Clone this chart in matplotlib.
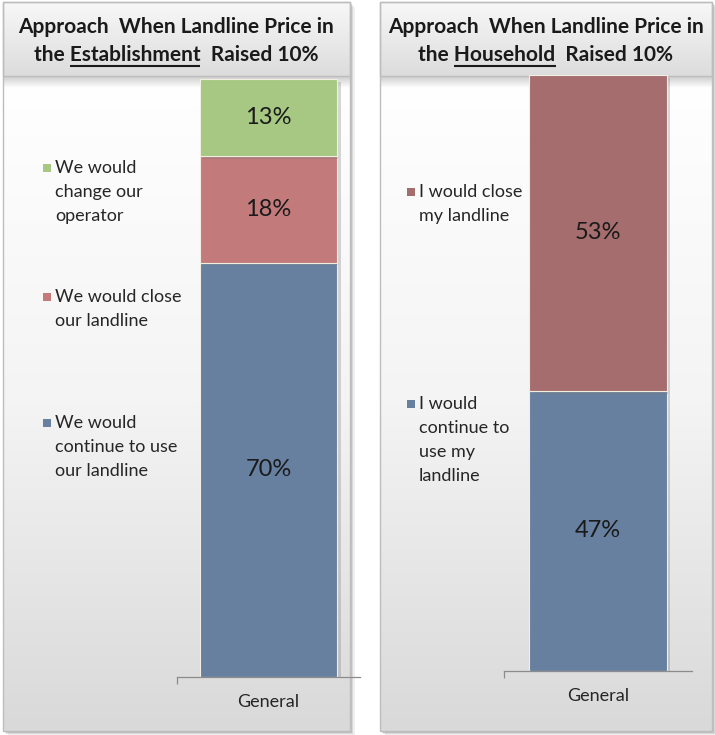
import numpy as np
import matplotlib
matplotlib.use('Agg')
import matplotlib.pyplot as plt
from matplotlib.patches import Rectangle
from matplotlib.colors import LinearSegmentedColormap
import matplotlib.patheffects as pe

plt.rcParams['font.family'] = ['Lato', 'DejaVu Sans']

# data
categories = ['General']

est_labels = ['We would\ncontinue to use\nour landline', 'We would close\nour landline', 'We would\nchange our\noperator']
est_values = [70, 18, 13]
est_colors = ['#6780a0', '#c27b7a', '#a6c882']

hh_labels = ['I would\ncontinue to\nuse my\nlandline', 'I would close\nmy landline']
hh_values = [47, 53]
hh_colors = ['#6780a0', '#a56d6d']

W, H = 715, 735
fig = plt.figure(figsize=(W / 100, H / 100), dpi=100)
bg = fig.add_axes([0, 0, 1, 1])
bg.set_xlim(0, W)
bg.set_ylim(H, 0)
bg.axis('off')

panel_cmap = LinearSegmentedColormap.from_list('p', ['#ffffff', '#f4f4f4', '#d9d9d9'])
title_cmap = LinearSegmentedColormap.from_list('t', ['#f8f8f8', '#dcdcdc'])
grad = np.linspace(0, 1, 256).reshape(-1, 1)


def panel(x0, x1):
    y0, y1, ty = 2, 731, 76
    # outer shadow
    for d, a in [(5, 0.12), (3, 0.2), (1.5, 0.25)]:
        bg.add_patch(Rectangle((x0 + d, y0 + d), x1 - x0, y1 - y0, fc='#808080', ec='none', alpha=a, zorder=0))
    bg.imshow(grad, cmap=panel_cmap, extent=[x0, x1, y1, ty], aspect='auto', zorder=1)
    bg.add_patch(Rectangle((x0, y0), x1 - x0, y1 - y0, fc='none', ec='#bdbdbd', lw=1, zorder=5))
    # title box shadow
    sh = np.zeros((20, 1, 4))
    sh[..., :3] = 0.45
    sh[:, 0, 3] = np.linspace(0.35, 0, 20)
    bg.imshow(sh, extent=[x0, x1, ty + 12, ty], aspect='auto', zorder=2)
    bg.imshow(grad, cmap=title_cmap, extent=[x0, x1, ty, y0], aspect='auto', zorder=3)
    bg.add_patch(Rectangle((x0, y0), x1 - x0, ty - y0, fc='none', ec='#bdbdbd', lw=1, zorder=5))
    bg.set_xlim(0, W)
    bg.set_ylim(H, 0)


def title(cx, line1, pre, word, post):
    fs = 15
    kw = dict(fontsize=fs, fontweight='bold', color='#1a1a1a', zorder=6)
    bg.text(cx, 27, line1, ha='center', va='center', **kw)
    r = fig.canvas.get_renderer()

    def w(s):
        t = bg.text(0, 0, s, **kw)
        e = t.get_window_extent(r).width
        t.remove()
        return e
    full = pre + word + post
    t2 = bg.text(cx, 55, full, ha='center', va='center', **kw)
    left = t2.get_window_extent(r).x0
    xs = left + w(pre + word) - w(word)
    xe = left + w(pre + word)
    bg.plot([xs, xe], [66, 66], color='#1a1a1a', lw=1.5, zorder=6, solid_capstyle='butt')


def legend(x, ys, labels, colors):
    for yc, lab, c in zip(ys, labels, colors):
        bg.add_patch(Rectangle((x - 12, yc - 4), 8, 8, fc=c, ec='none', zorder=6))
        for i, line in enumerate(lab.split('\n')):
            bg.text(x, yc + 24 * i, line, ha='left', va='center', fontsize=13, color='#262626', zorder=6)


def bars(rect, values, colors, ymax, width):
    x0, x1, y0, y1 = rect
    ax = fig.add_axes([x0 / W, 1 - y1 / H, (x1 - x0) / W, (y1 - y0) / H])
    ax.patch.set_alpha(0)
    bottom = 0
    for v, c in zip(values, colors):
        b = ax.bar(categories, v, bottom=bottom, width=width, color=c, edgecolor='#f3eee2', lw=0.8)
        for p in b:
            p.set_path_effects([pe.SimplePatchShadow(offset=(2.5, -2), shadow_rgbFace='#7a7a7a', alpha=0.3), pe.Normal()])
        ax.text(0, bottom + v / 2, f'{v}%', ha='center', va='center', fontsize=17, color='#1a1a1a')
        bottom += v
    ax.set_xlim(-0.5, 0.5)
    ax.set_ylim(0, ymax)
    for s in ['top', 'right', 'left']:
        ax.spines[s].set_visible(False)
    ax.spines['bottom'].set_color('#8c8c8c')
    ax.spines['bottom'].set_linewidth(0.9)
    ax.set_yticks([])
    ax.set_xticks([-0.5])
    ax.set_xticklabels([''])
    ax.tick_params(axis='x', length=5, color='#8c8c8c', width=0.9)
    ax.annotate(categories[0], xy=(0, 0), xycoords=('data', 'axes fraction'), xytext=(0, -18),
                textcoords='offset points', ha='center', va='center', fontsize=13, color='#262626')
    return ax


panel(3, 350)
panel(380, 712)

title(176, 'Approach  When Landline Price in', 'the ', 'Establishment', '  Raised 10%')
title(546, 'Approach  When Landline Price in', 'the ', 'Household', '  Raised 10%')

legend(55, [423, 297, 168], est_labels, est_colors)
legend(419, [404, 192], hh_labels, hh_colors)

bars((177, 360, 79, 677), est_values, est_colors, sum(est_values), 0.75)
bars((504, 692, 75, 671), hh_values, hh_colors, sum(hh_values), 0.73)

fig.savefig('out.png', dpi=100)
